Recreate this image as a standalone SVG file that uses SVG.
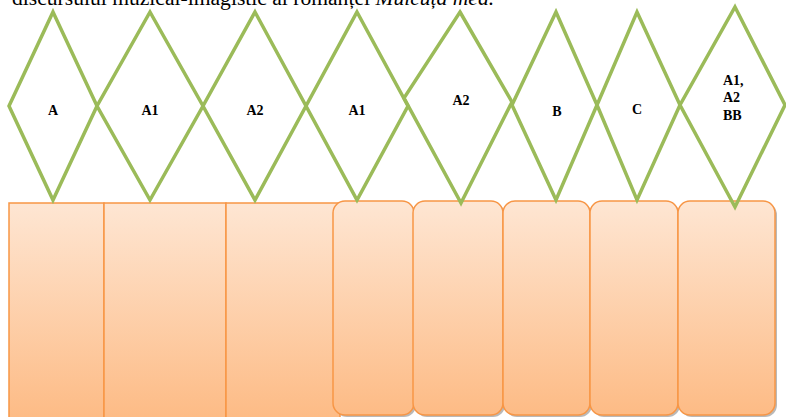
<svg xmlns="http://www.w3.org/2000/svg" width="786" height="417" viewBox="0 0 786 417">
<defs>
<linearGradient id="og" x1="0" y1="0" x2="0" y2="1">
<stop offset="0" stop-color="#fee6d3"/>
<stop offset="1" stop-color="#fdbb85"/>
</linearGradient>
</defs>
<style>
.sq{fill:url(#og);stroke:#f79646;stroke-width:1.5}
.rr{fill:url(#og);stroke:#f79646;stroke-width:1.5}
.sh{fill:#7f7f7f;opacity:0.55}
.dm{fill:none;stroke:#9bbb59;stroke-width:3.5;stroke-linejoin:miter}
.lb{font-family:"Liberation Serif","Times New Roman",serif;font-weight:bold;font-size:14px;fill:#000}
.cap{font-family:"Liberation Serif","Times New Roman",serif;font-size:21.6px;fill:#000}
</style>
<rect width="786" height="417" fill="#ffffff"/>
<text class="cap" x="12" y="5">discursului muzical-imagistic al romanței <tspan font-style="italic">Mulcuța mea.</tspan></text>
<g id="boxes">
<g id="box1"><rect class="sq" x="9" y="203" width="95" height="216"/></g>
<g id="box2"><rect class="sq" x="104" y="203" width="122" height="216"/></g>
<g id="box3"><rect class="sq" x="226" y="203" width="114" height="216"/></g>
<g id="box4"><rect class="sh" x="335" y="203" width="81" height="214" rx="12"/><rect class="rr" x="333" y="201" width="81" height="214" rx="12"/></g>
<g id="box5"><rect class="sh" x="415" y="203" width="90" height="214" rx="12"/><rect class="rr" x="413" y="201" width="90" height="214" rx="12"/></g>
<g id="box6"><rect class="sh" x="505" y="203" width="87" height="214" rx="12"/><rect class="rr" x="503" y="201" width="87" height="214" rx="12"/></g>
<g id="box7"><rect class="sh" x="592" y="203" width="88" height="214" rx="12"/><rect class="rr" x="590" y="201" width="88" height="214" rx="12"/></g>
<g id="box8"><rect class="sh" x="680" y="203" width="97" height="214" rx="12"/><rect class="rr" x="678" y="201" width="97" height="214" rx="12"/></g>
</g>
<g id="connectors"></g>
<g id="d1"><polygon class="dm" points="53,12 97,106 53,200 9,106"/><text class="lb" x="53" y="115" text-anchor="middle">A</text></g>
<g id="d2"><polygon class="dm" points="150,12 203,106 150,200 97,106"/><text class="lb" x="150" y="115" text-anchor="middle">A1</text></g>
<g id="d3"><polygon class="dm" points="255,12 306,106 255,200 203,106"/><text class="lb" x="255" y="115" text-anchor="middle">A2</text></g>
<g id="d4"><polygon class="dm" points="357,12 408,106 357,200 306,106"/><text class="lb" x="357" y="115" text-anchor="middle">A1</text></g>
<g id="d5"><polygon class="dm" points="460,12 512,102 461,203 404,98"/><text class="lb" x="461" y="105" text-anchor="middle">A2</text></g>
<g id="d6"><polygon class="dm" points="556,12 597,105 556,200 512,105"/><text class="lb" x="557" y="116" text-anchor="middle">B</text></g>
<g id="d7"><polygon class="dm" points="637,12 680,105 637,200 597,105"/><text class="lb" x="637" y="114" text-anchor="middle">C</text></g>
<g id="d8"><polygon class="dm" points="735,7 785,105 735,207 680,105"/><text class="lb" x="723" y="85">A1,</text><text class="lb" x="723" y="102">A2</text><text class="lb" x="723" y="120">BB</text></g>
</svg>
